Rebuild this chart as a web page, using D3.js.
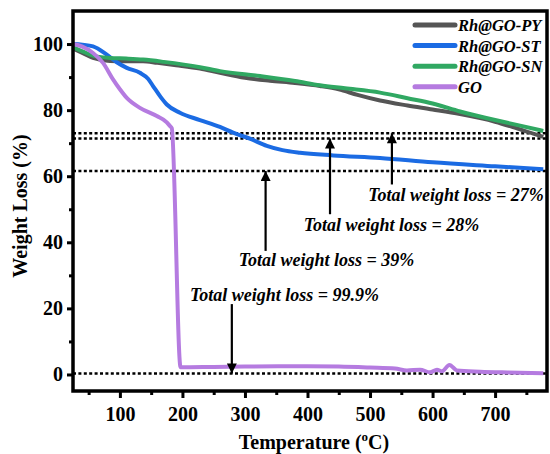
<!DOCTYPE html>
<html>
<head>
<meta charset="utf-8">
<script src="https://cdn.jsdelivr.net/npm/d3@7"></script>
<style>
  body { margin: 0; background: #fff; }
  svg { font-family: "Liberation Serif", "Times New Roman", serif; }
</style>
</head>
<body>
<div id="chart"></div>
<script>
// temperature (°C) samples for each curve
var pyTemp = [25, 40, 57, 84, 110, 137, 160, 190, 228, 260, 300, 340, 380, 420, 450, 480, 516, 560, 600, 644, 700, 740, 777];
var pyWeight = [98.6, 97.3, 95.8, 94.9, 94.8, 94.8, 94.3, 93.6, 92.6, 91.3, 89.8, 88.9, 88.2, 87.3, 86.3, 84.6, 82.9, 81.4, 80.2, 78.8, 76.5, 74.2, 71.9];

var stTemp = [25, 40, 57, 79, 95, 111, 132, 145, 153, 165, 175, 196, 228, 260, 281, 310, 335, 360, 388, 441, 516, 600, 700, 777];
var stWeight = [100, 99.8, 99.3, 96.8, 94.5, 92.8, 91.3, 89.5, 87.3, 84.0, 81.7, 79.2, 77.0, 74.9, 73.2, 71.2, 69.2, 67.9, 67.1, 66.3, 65.5, 64.2, 63.0, 62.1];

var snTemp = [25, 40, 57, 84, 110, 137, 170, 228, 260, 324, 380, 420, 460, 516, 560, 600, 644, 700, 740, 777];
var snWeight = [99.0, 97.8, 96.5, 95.8, 95.6, 95.3, 94.6, 93.0, 91.8, 90.3, 88.8, 87.5, 86.6, 85.3, 83.6, 82.0, 79.6, 77.0, 75.3, 73.7];

var goTemp = [25, 40, 57, 73, 89, 100, 111, 132, 159, 175, 180, 183, 197, 250, 300, 400, 450, 500, 540, 559, 580, 596, 607, 615, 627, 639, 676, 720, 777];
var goWeight = [100, 99.2, 97.3, 94.3, 89.3, 86.3, 83.7, 80.7, 78.2, 76.3, 75.2, 74.5, 2.2, 2.3, 2.4, 2.5, 2.4, 2.1, 1.8, 1.2, 1.45, 0.65, 1.45, 0.95, 2.9, 1.2, 0.85, 0.6, 0.35];

var seriesNames = ['Rh@GO-PY', 'Rh@GO-ST', 'Rh@GO-SN', 'GO'];
var seriesColors = ['#555555', '#1b6be3', '#30a862', '#b57be0'];

// dotted reference levels (%)
var refLevels = [73.0, 71.4, 61.6, 0.3];

// annotations: arrow x (°C), arrow tail and head (%), label
var noteText = ['Total weight loss = 27%', 'Total weight loss = 28%', 'Total weight loss = 39%', 'Total weight loss = 99.9%'];
var noteArrowX = [535, 436, 333, 279];
var noteTail = [57.5, 48.5, 37.4, 21.3];
var noteHead = [73.0, 71.4, 61.6, 0.3];
var noteTextX = [497, 394, 290, 212];
var noteTextY = [52.4, 43.4, 32.8, 22.2];

var xTicks = [100, 200, 300, 400, 500, 600, 700];
var xMinor = [50, 150, 250, 350, 450, 550, 650, 750];
var yTicks = [0, 20, 40, 60, 80, 100];
var yMinor = [10, 30, 50, 70, 90];

var margin = {top: 11, right: 3, bottom: 63, left: 73},
    width = 550 - margin.left - margin.right,
    height = 454 - margin.top - margin.bottom;

var x = d3.scaleLinear().domain([25, 783]).range([0, width]);
var y = d3.scaleLinear().domain([-5, 110]).range([height, 0]);

var svg = d3.select('#chart')
    .append('svg')
    .attr('width', 550)
    .attr('height', 454);

var g = svg.append('g')
    .attr('transform', 'translate(' + margin.left + ',' + margin.top + ')');

g.append('defs').append('clipPath').attr('id', 'clip')
    .append('rect').attr('width', width).attr('height', height);

// dotted lines
g.selectAll('.ref')
    .data(refLevels)
    .enter().append('line')
    .attr('x1', 0).attr('x2', width)
    .attr('y1', function(d) { return y(d); })
    .attr('y2', function(d) { return y(d); })
    .attr('stroke', '#000')
    .attr('stroke-width', 2.6)
    .attr('stroke-dasharray', '3,2.4');

// curves
var series = [
    {temp: pyTemp, w: pyWeight},
    {temp: stTemp, w: stWeight},
    {temp: snTemp, w: snWeight},
    {temp: goTemp, w: goWeight}
];

var line = d3.line()
    .curve(d3.curveMonotoneX)
    .x(function(d) { return x(d[0]); })
    .y(function(d) { return y(d[1]); });

series.forEach(function(s, i) {
    g.append('path')
        .datum(d3.zip(s.temp, s.w))
        .attr('clip-path', 'url(#clip)')
        .attr('fill', 'none')
        .attr('stroke', seriesColors[i])
        .attr('stroke-width', 4)
        .attr('stroke-linejoin', 'round')
        .attr('d', line);
});

// arrows
var defs = svg.append('defs');
defs.append('marker')
    .attr('id', 'head')
    .attr('viewBox', '0 0 10 10')
    .attr('refX', 10).attr('refY', 5)
    .attr('markerUnits', 'userSpaceOnUse')
    .attr('markerWidth', 15).attr('markerHeight', 10)
    .attr('orient', 'auto')
    .append('path')
    .attr('d', 'M0,0 L10,5 L0,10 Z')
    .attr('fill', '#000');

noteText.forEach(function(t, i) {
    g.append('line')
        .attr('x1', x(noteArrowX[i])).attr('x2', x(noteArrowX[i]))
        .attr('y1', y(noteTail[i])).attr('y2', y(noteHead[i]))
        .attr('stroke', '#000')
        .attr('stroke-width', 2.2)
        .attr('marker-end', 'url(#head)');
    g.append('text')
        .attr('x', x(noteTextX[i]))
        .attr('y', y(noteTextY[i]))
        .attr('font-size', 18)
        .attr('font-weight', 'bold')
        .attr('font-style', 'italic')
        .text(t);
});

// frame
g.append('rect')
    .attr('width', width).attr('height', height)
    .attr('fill', 'none')
    .attr('stroke', '#000')
    .attr('stroke-width', 3.5);

// axes
var xAxis = g.append('g')
    .attr('transform', 'translate(0,' + height + ')')
    .call(d3.axisBottom(x).tickValues(xTicks).tickSize(7).tickSizeOuter(0).tickPadding(9));
var xAxisMinor = g.append('g')
    .attr('transform', 'translate(0,' + height + ')')
    .call(d3.axisBottom(x).tickValues(xMinor).tickSize(4).tickSizeOuter(0).tickFormat(''));
var yAxis = g.append('g')
    .call(d3.axisLeft(y).tickValues(yTicks).tickSize(6).tickSizeOuter(0).tickPadding(4));
var yAxisMinor = g.append('g')
    .call(d3.axisLeft(y).tickValues(yMinor).tickSize(4).tickSizeOuter(0).tickFormat(''));

[xAxis, xAxisMinor, yAxis, yAxisMinor].forEach(function(a) {
    a.select('.domain').remove();
    a.selectAll('line').attr('stroke', '#000').attr('stroke-width', 3);
    a.selectAll('text')
        .attr('fill', '#000')
        .attr('font-family', '"Liberation Serif", serif')
        .attr('font-size', 20)
        .attr('font-weight', 'bold');
});

// axis titles
var xt = svg.append('text')
    .attr('x', 314).attr('y', 449)
    .attr('text-anchor', 'middle')
    .attr('font-size', 20)
    .attr('font-weight', 'bold');
xt.append('tspan').text('Temperature (');
xt.append('tspan').attr('font-size', 13).attr('dy', -8).text('o');
xt.append('tspan').attr('dy', 8).text('C)');

svg.append('text')
    .attr('transform', 'translate(27,206) rotate(-90)')
    .attr('text-anchor', 'middle')
    .attr('font-size', 20)
    .attr('font-weight', 'bold')
    .text('Weight Loss (%)');

// legend
var legend = svg.append('g').attr('transform', 'translate(415,25)');
seriesNames.forEach(function(n, i) {
    var row = legend.append('g').attr('transform', 'translate(0,' + (i * 20.6) + ')');
    row.append('line')
        .attr('x1', 0).attr('x2', 40)
        .attr('stroke', seriesColors[i])
        .attr('stroke-width', 5)
        .attr('stroke-linecap', 'round');
    row.append('text')
        .attr('x', 43).attr('y', 6)
        .attr('font-size', 16.5)
        .attr('font-weight', 'bold')
        .attr('font-style', 'italic')
        .text(n);
});
</script>
</body>
</html>
